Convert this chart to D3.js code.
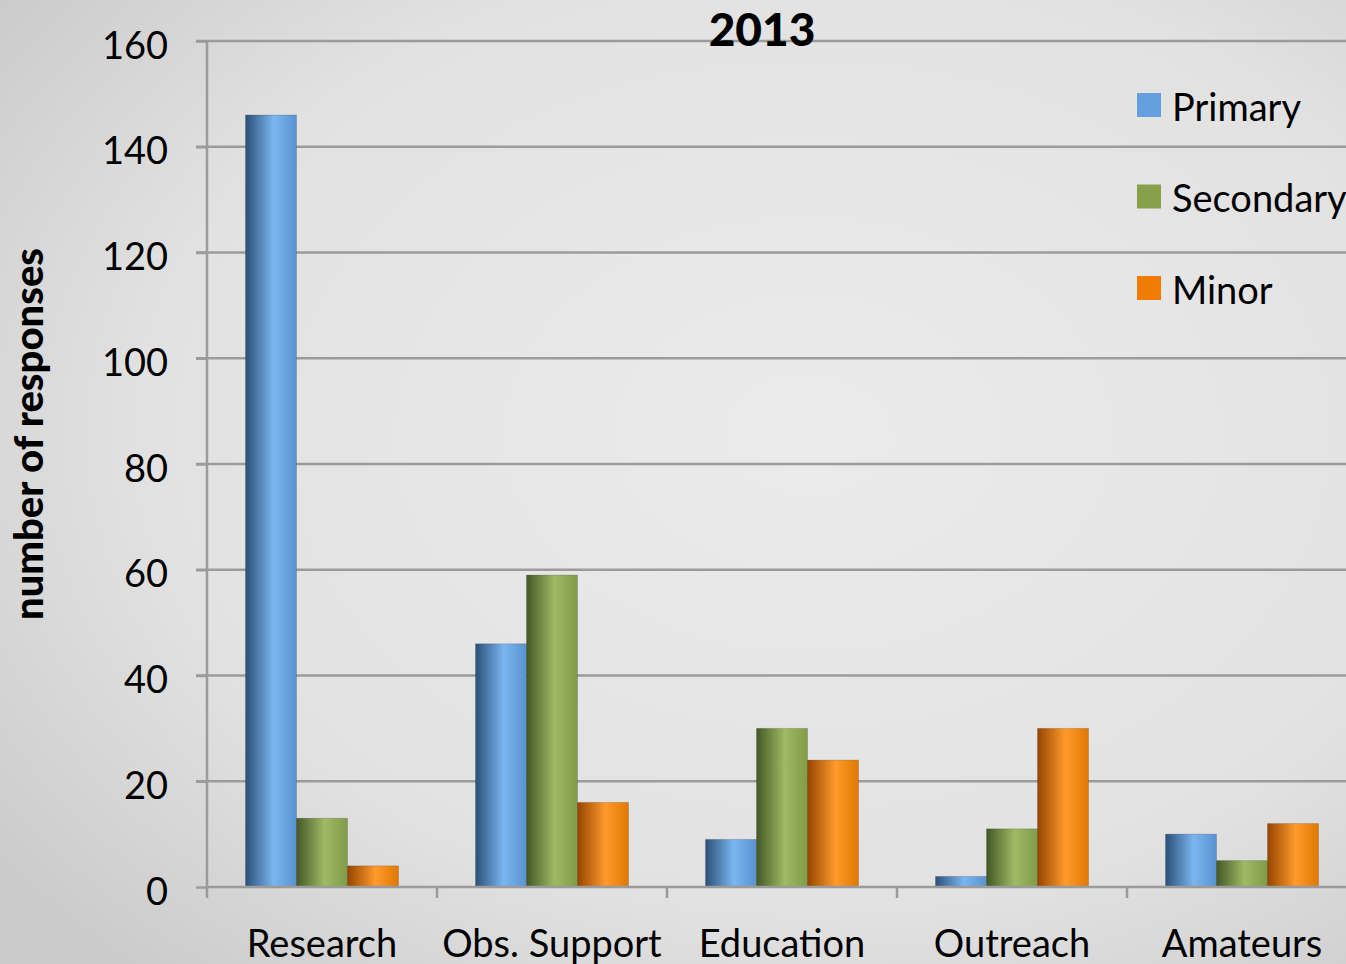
<!DOCTYPE html>
<html>
<head>
<meta charset="utf-8">
<script src="https://cdn.jsdelivr.net/npm/d3@7"></script>
<style>
  html, body { margin: 0; padding: 0; overflow: hidden; }
  body { width: 1346px; height: 964px; }
  text { font-family: Lato, "Open Sans", sans-serif; fill: #000; }
</style>
</head>
<body>
<div class="chart"></div>
<script>
// Data
var categories = ["Research", "Obs. Support", "Education", "Outreach", "Amateurs"];
var seriesNames = ["Primary", "Secondary", "Minor"];
var primary = [146, 46, 9, 2, 10];
var secondary = [13, 59, 30, 11, 5];
var minor = [4, 16, 24, 30, 12];
var yTicks = [0, 20, 40, 60, 80, 100, 120, 140, 160];
var chartTitle = "2013";
var yTitle = "number of responses";

var seriesValues = [primary, secondary, minor];

// Canvas
var outerWidth = 1346;
var outerHeight = 964;
var plotLeft = 207, plotTop = 41, plotBottom = 887;

var svg = d3.select(".chart").append("svg")
  .attr("width", outerWidth)
  .attr("height", outerHeight);

var defs = svg.append("defs");

// Background: light grey sky, darker towards the edges
var bg = defs.append("radialGradient").attr("id", "bg")
  .attr("cx", "60%").attr("cy", "45%").attr("r", "75%");
bg.append("stop").attr("offset", "0%").attr("stop-color", "#ebebeb");
bg.append("stop").attr("offset", "65%").attr("stop-color", "#e2e2e2");
bg.append("stop").attr("offset", "100%").attr("stop-color", "#cbcbcb");

svg.append("rect")
  .attr("width", outerWidth)
  .attr("height", outerHeight)
  .attr("fill", "url(#bg)");

// Bar gradients (cylinder-ish shading)
var barColors = {
  Primary:   { dark: "#2b4f78", mid: "#7ab6f0", edge: "#5a93d0", flat: "#64a0de" },
  Secondary: { dark: "#435826", mid: "#9fb964", edge: "#809c47", flat: "#87a04a" },
  Minor:     { dark: "#964500", mid: "#ff9a2c", edge: "#e07800", flat: "#ef7d05" }
};
seriesNames.forEach(function(s, i) {
  var g = defs.append("linearGradient").attr("id", "grad" + i)
    .attr("x1", "0%").attr("x2", "100%").attr("y1", "0%").attr("y2", "0%");
  g.append("stop").attr("offset", "0%").attr("stop-color", barColors[s].dark);
  g.append("stop").attr("offset", "55%").attr("stop-color", barColors[s].mid);
  g.append("stop").attr("offset", "100%").attr("stop-color", barColors[s].edge);
});

// Scales
var x0 = d3.scaleBand()
  .domain(categories)
  .range([plotLeft, plotLeft + 230 * categories.length])
  .paddingInner(0).paddingOuter(0);

var x1 = d3.scaleBand()
  .domain(seriesNames)
  .range([0, x0.bandwidth()])
  .paddingInner(0).paddingOuter(0.755);

var y = d3.scaleLinear().domain([0, 160]).range([plotBottom, plotTop]);

// Gridlines
svg.append("g").selectAll("line").data(yTicks.slice(1)).enter().append("line")
  .attr("x1", plotLeft - 11)
  .attr("x2", outerWidth)
  .attr("y1", function(d) { return y(d); })
  .attr("y2", function(d) { return y(d); })
  .attr("stroke", "#9b9b9b")
  .attr("stroke-width", 2.5);

// Y axis
var yAxis = svg.append("g")
  .attr("transform", "translate(" + plotLeft + ",0)")
  .call(d3.axisLeft(y).tickValues(yTicks).tickSize(11).tickPadding(28));
yAxis.select(".domain").attr("stroke", "#9b9b9b").attr("stroke-width", 2.5)
  .attr("d", "M0," + y(0) + "V" + y(160));
yAxis.selectAll(".tick line").attr("stroke", "#9b9b9b").attr("stroke-width", 2.5);
yAxis.selectAll(".tick text")
  .style("font-family", "Lato, 'Open Sans', sans-serif")
  .style("font-size", "38px")
  .attr("fill", "#000")
  .attr("dy", "0.45em");

// Bars
var groups = svg.append("g").selectAll("g").data(categories).enter().append("g")
  .attr("transform", function(d) { return "translate(" + x0(d) + ",0)"; });

groups.selectAll("rect")
  .data(function(c, ci) {
    return seriesNames.map(function(s, si) { return { series: s, si: si, value: seriesValues[si][ci] }; });
  })
  .enter().append("rect")
    .attr("x", function(d) { return x1(d.series); })
    .attr("y", function(d) { return y(d.value); })
    .attr("width", x1.bandwidth())
    .attr("height", function(d) { return y(0) - y(d.value); })
    .attr("fill", function(d) { return "url(#grad" + d.si + ")"; })
    .attr("stroke", "rgba(0,0,0,0.15)")
    .attr("stroke-width", 1);

// X axis
var xAxis = svg.append("g")
  .attr("transform", "translate(0," + plotBottom + ")");
xAxis.append("line")
  .attr("x1", plotLeft).attr("x2", outerWidth)
  .attr("stroke", "#9b9b9b").attr("stroke-width", 2.5);
xAxis.selectAll(".xt").data(categories).enter().append("line")
  .attr("class", "xt")
  .attr("x1", function(d) { return x0(d); })
  .attr("x2", function(d) { return x0(d); })
  .attr("y1", 0).attr("y2", 11)
  .attr("stroke", "#9b9b9b").attr("stroke-width", 2.5);
xAxis.selectAll("text").data(categories).enter().append("text")
  .attr("x", function(d) { return x0(d) + x0.bandwidth() / 2; })
  .attr("y", 70)
  .attr("text-anchor", "middle")
  .style("font-size", "38px")
  .text(function(d) { return d; });

// Title
svg.append("text")
  .attr("x", 762).attr("y", 46)
  .attr("text-anchor", "middle")
  .style("font-size", "46px")
  .style("font-weight", "900")
  .text(chartTitle);

// Y axis title
svg.append("text")
  .attr("transform", "translate(43,434) rotate(-90)")
  .attr("text-anchor", "middle")
  .style("font-size", "40px")
  .style("font-weight", "900")
  .text(yTitle);

// Legend
var legend = svg.append("g").selectAll("g").data(seriesNames).enter().append("g")
  .attr("transform", function(d, i) { return "translate(1137," + (93 + i * 91.5) + ")"; });
legend.append("rect")
  .attr("width", 24).attr("height", 24)
  .attr("fill", function(d) { return barColors[d].flat; });
legend.append("text")
  .attr("x", 35).attr("y", 14).attr("dy", "0.36em")
  .style("font-size", "38px")
  .text(function(d) { return d; });
</script>
</body>
</html>
